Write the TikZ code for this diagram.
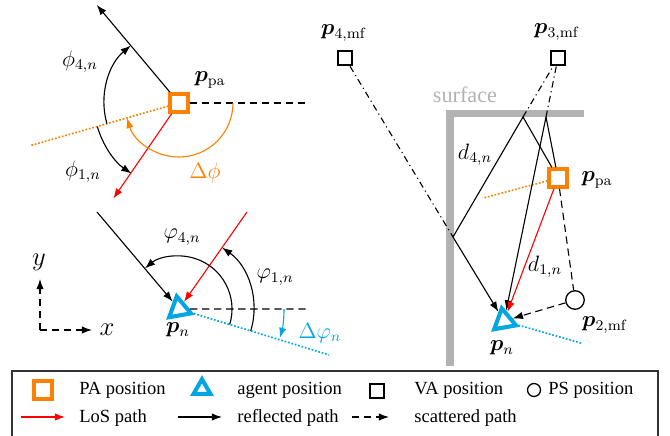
\documentclass[tikz,border=0pt]{standalone}
\usepackage{amsmath}
\usepackage[no-math]{fontspec}
\setmainfont{Liberation Serif}
\usepackage{bm}
\usetikzlibrary{arrows.meta,calc,shapes.geometric}
\definecolor{paorange}{RGB}{255,127,0}
\definecolor{agcyan}{RGB}{0,166,226}
\definecolor{wallgray}{RGB}{178,178,178}
\begin{document}
\begin{tikzpicture}[x=0.54pt,y=0.54pt,
 >={Latex[length=5.5pt,width=4pt]},
 pasq/.style={draw=paorange,line width=2.2pt,minimum size=9.4pt,inner sep=0pt},
 agtri/.style={draw=agcyan,line width=2.2pt,regular polygon,regular polygon sides=3,minimum size=13.8pt,inner sep=0pt},
 vasq/.style={draw,line width=1pt,minimum size=8pt,inner sep=0pt},
 pscirc/.style={draw,circle,line width=0.7pt,minimum size=10pt,inner sep=0pt},
 ray/.style={line width=0.6pt},
 los/.style={ray,red},
 hdash/.style={ray,dash pattern=on 4pt off 2.5pt},
 scat/.style={ray,dash pattern=on 4pt off 2.5pt},
 dd/.style={ray,dash pattern=on 3.5pt off 2pt on 0.6pt off 2pt},
 paline/.style={paorange,line width=0.9pt,densely dotted},
 agline/.style={agcyan,line width=0.9pt,densely dotted},
 lbl/.style={font=\large,inner sep=1pt},
 legtxt/.style={anchor=base west,inner sep=0pt},
]
\useasboundingbox (0,0) rectangle (670,435);

% ---------- top left: PA angles ----------
\node[pasq] (pa1) at (179,332) {};
\node[lbl] (lpa1) at (210,355) {$\bm{p}_{\mathrm{pa}}$};
\coordinate (r4end) at ($(pa1)+(130:128)$);
\coordinate (h1) at (310,332);
\coordinate (o1) at ($(pa1)+(196:155)$);
\coordinate (l1end) at ($(pa1)+(235.5:116)$);
\draw[paline] (pa1) -- (o1);
\draw[ray,->] (pa1) -- (r4end);
\draw[hdash] (pa1) -- (h1);
\draw[los,->] (pa1) -- (l1end);
\draw[ray,->] ($(pa1)+(196:75)$) arc[start angle=196,end angle=130,radius=75];
\draw[ray,->] ($(pa1)+(196:85)$) arc[start angle=196,end angle=236,radius=85];
\draw[ray,paorange,->] ($(pa1)+(0:54)$) arc[start angle=0,end angle=-164,radius=54];
\node[lbl] (phi4) at (80,373) {$\phi_{4,n}$};
\node[lbl] (phi1) at (83,263) {$\phi_{1,n}$};
\node[lbl,text=paorange] (dphi) at (205,262) {$\Delta\phi$};

% ---------- bottom left: agent angles ----------
\node[agtri,rotate=10] (a1) at (179,126) {};
\node[lbl] (lpn1) at (178,105) {$\bm{p}_n$};
\coordinate (h2) at (310,126);
\coordinate (c1) at ($(a1)+(-17:157)$);
\coordinate (r4s) at (97,223);
\coordinate (l1s) at (247,223);
\draw[agline] (a1) -- (c1);
\draw[hdash] (a1) -- (h2);
\draw[ray,->] (r4s) -- (a1);
\draw[los,->] (l1s) -- (a1);
\draw[ray,->] ($(a1)+(-17:53)$) arc[start angle=-17,end angle=130,radius=53];
\draw[ray,->] ($(a1)+(-17:75)$) arc[start angle=-17,end angle=55,radius=75];
\draw[ray,agcyan,->] ($(a1)+(0:105)$) arc[start angle=0,end angle=-16,radius=105];
\node[lbl] (vphi4) at (182,198) {$\varphi_{4,n}$};
\node[lbl] (vphi1) at (275,158) {$\varphi_{1,n}$};
\node[lbl,text=agcyan] (dvphi) at (320,102) {$\Delta\varphi_n$};

% axes
\coordinate (ax0) at (40,105);
\coordinate (axy) at (40,156);
\coordinate (axx) at (92,105);
\draw[hdash,->] (ax0) -- (axy);
\draw[hdash,->] (ax0) -- (axx);
\node[lbl,font=\Large] (ly) at (39,173) {$y$};
\node[lbl,font=\Large] (lx) at (107,105) {$x$};

% ---------- right: geometry ----------
\draw[wallgray,line width=3.8pt] (450,69) -- (450,321.3) -- (584,321.3);
\node[lbl,text=wallgray] (surf) at (465,340) {surface};
\node[vasq] (p4) at (345,377) {};
\node[lbl] (lp4) at (344,402) {$\bm{p}_{4,\mathrm{mf}}$};
\node[vasq] (p3) at (558,377) {};
\node[lbl] (lp3) at (557,403) {$\bm{p}_{3,\mathrm{mf}}$};
\coordinate (W1) at (523,318);
\coordinate (W2) at (546,318);
\coordinate (V) at (453,198);
\node[pasq] (pa2) at (558,257) {};
\node[lbl] (lpa2) at (597,255) {$\bm{p}_{\mathrm{pa}}$};
\node[agtri,rotate=10] (a2) at (504,114) {};
\node[lbl] (lpn2) at (502,87) {$\bm{p}_n$};
\node[pscirc] (s) at (575,135) {};
\node[lbl] (lps) at (605,110) {$\bm{p}_{2,\mathrm{mf}}$};
\coordinate (o2) at ($(pa2)+(195:78)$);
\coordinate (c2) at ($(a2)+(-16:80)$);
\draw[paline] (pa2) -- (o2);
\draw[agline] (a2) -- (c2);
\draw[dd] (p4) -- (V);
\draw[dd] (W1) -- (p3);
\draw[dd] (W2) -- (p3);
\draw[ray] (pa2) -- (W1) -- (V);
\draw[ray,->] (V) -- (a2);
\draw[ray] (pa2) -- (W2);
\draw[ray,->] (W2) -- (a2);
\draw[los,->] (pa2) -- (a2);
\draw[scat] (pa2) -- (s);
\draw[scat,->] (s) -- (a2);
\node[lbl] (d4) at (475,280) {$d_{4,n}$};
\node[lbl] (d1) at (545,168) {$d_{1,n}$};

% ---------- legend ----------
\draw[line width=0.6pt,black!80] (12,-5) -- (12,64) -- (658,64) -- (658,-5);
\node[pasq] (lg1) at (43,45) {};
\node[legtxt] (lt1) at (79,41) {PA position};
\node[agtri,minimum size=10.5pt] (lg2) at (202,46) {};
\node[legtxt] (lt2) at (237,41) {agent position};
\node[vasq] (lg3) at (377,44) {};
\node[legtxt] (lt3) at (414,41) {VA position};
\node[pscirc,minimum size=7pt] (lg4) at (534,45) {};
\node[legtxt] (lt4) at (548,41) {PS position};
\coordinate (la1) at (21,18); \coordinate (la2) at (65,18);
\coordinate (lb1) at (178,18); \coordinate (lb2) at (222,18);
\coordinate (lc1) at (352,18); \coordinate (lc2) at (389,18);
\draw[los,->] (la1) -- (la2);
\node[legtxt] (lt5) at (79,13) {LoS path};
\draw[ray,->] (lb1) -- (lb2);
\node[legtxt] (lt6) at (237,13) {reflected path};
\draw[scat,->] (lc1) -- (lc2);
\node[legtxt] (lt7) at (414,13) {scattered path};
\end{tikzpicture}
\end{document}
